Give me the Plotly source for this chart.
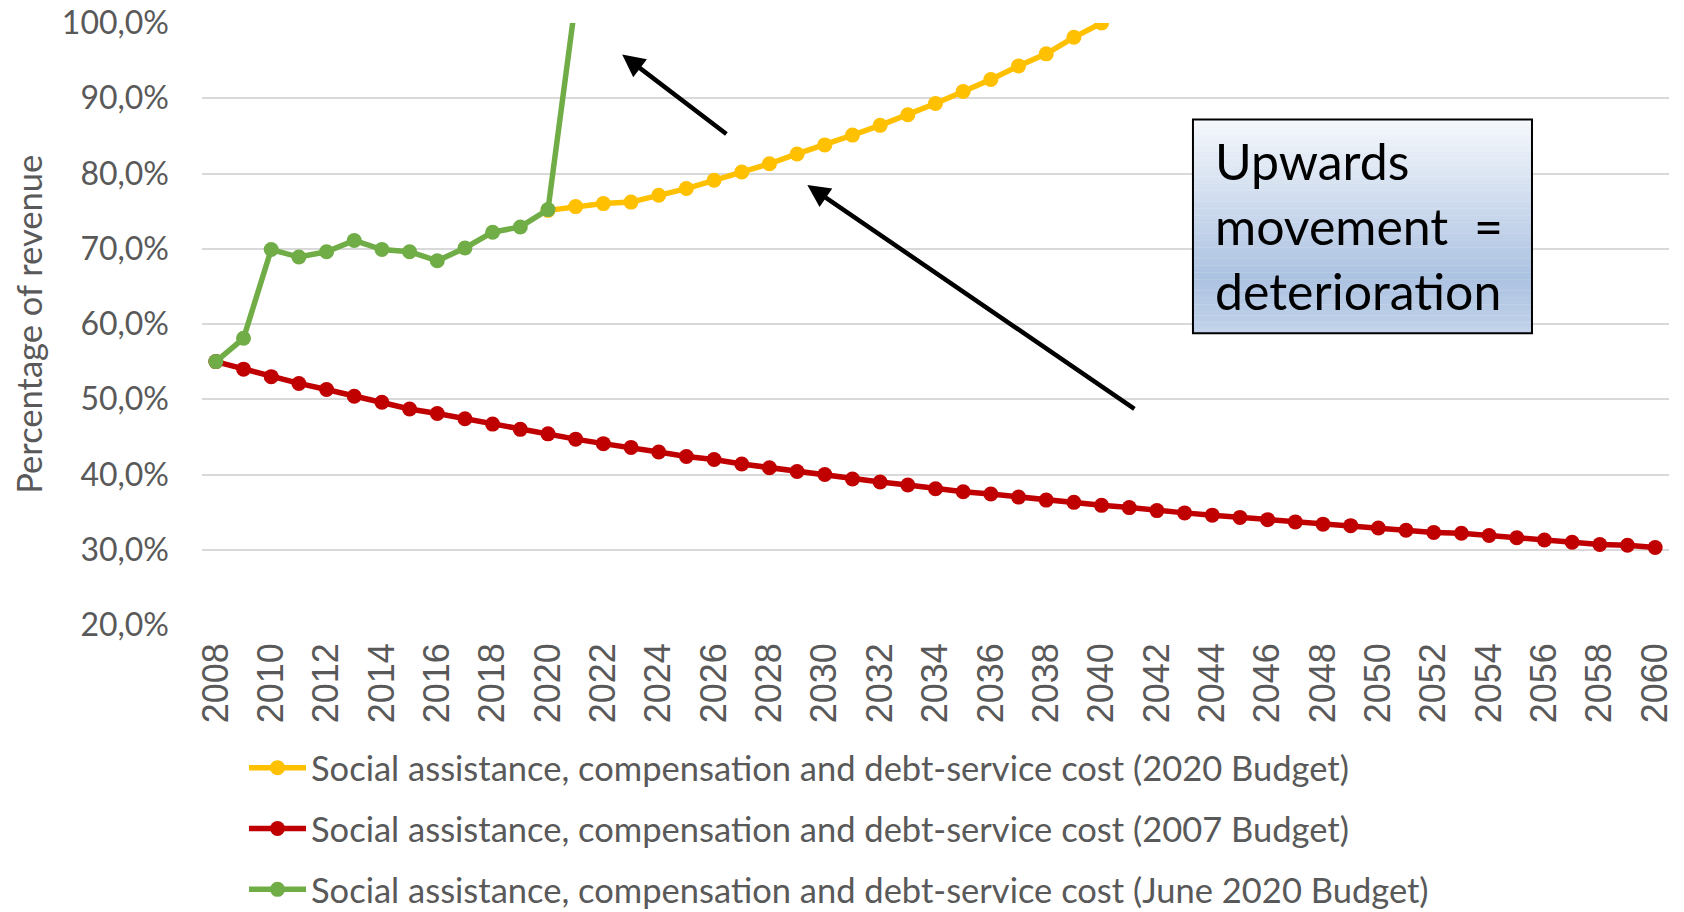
import plotly.graph_objects as go

years = list(range(2008, 2061))

# Social assistance, compensation and debt-service cost (2020 Budget), 2020-2040
yellow_years = list(range(2020, 2041))
yellow_vals = [75.1, 75.6, 76.0, 76.2, 77.1, 78.0, 79.1, 80.2, 81.3, 82.6, 83.8,
               85.1, 86.4, 87.8, 89.3, 90.9, 92.5, 94.3, 95.9, 98.1, 100.0]

# Social assistance, compensation and debt-service cost (2007 Budget), 2008-2060
red_years = years
red_vals = [55.0, 54.0, 53.0, 52.1, 51.3, 50.4, 49.6, 48.7, 48.1, 47.4,
            46.7, 46.0, 45.4, 44.7, 44.1, 43.6, 43.0, 42.4, 42.0, 41.4,
            40.9, 40.4, 40.0, 39.4, 39.0, 38.6, 38.1, 37.7, 37.4, 37.0,
            36.6, 36.3, 35.9, 35.6, 35.2, 34.9, 34.6, 34.3, 34.0, 33.7,
            33.4, 33.2, 32.9, 32.6, 32.3, 32.2, 31.9, 31.6, 31.3, 31.0,
            30.7, 30.6, 30.3]

# Social assistance, compensation and debt-service cost (June 2020 Budget), 2008-2021
green_years = list(range(2008, 2022))
green_vals = [55.0, 58.1, 69.9, 68.9, 69.6, 71.1, 69.9, 69.6, 68.4, 70.1,
              72.2, 72.9, 75.2, 103.0]

names = [
    "Social assistance, compensation and debt-service cost (2020 Budget)",
    "Social assistance, compensation and debt-service cost (2007 Budget)",
    "Social assistance, compensation and debt-service cost (June 2020 Budget)",
]
colors = ["#FFC000", "#C00000", "#70AD47"]

x_ticks = list(range(2008, 2061, 2))
y_ticks = [0.2, 0.3, 0.4, 0.5, 0.6, 0.7, 0.8, 0.9, 1.0]
y_title = "Percentage of revenue"

GREY = "#595959"
FONT = "Lato"

fig = go.Figure()
series = [(yellow_years, yellow_vals), (red_years, red_vals), (green_years, green_vals)]
for i, ((xs, vs), nm, col) in enumerate(zip(series, names, colors)):
    fig.add_trace(go.Scatter(
        x=xs, y=[v / 100 for v in vs], name=nm, mode="lines+markers",
        line=dict(color=col, width=5.5),
        marker=dict(color=col, size=15),
        legendgroup=f"g{i}",
        cliponaxis=True,
    ))

# gradient text box
bx0, bx1 = 0.6755, 0.9066
by0, by1 = 0.4846, 0.8397
stops = [(0.0, (245, 248, 252)), (0.74, (172, 194, 225)), (1.0, (194, 211, 234))]

def grad(t):
    for (t0, c0), (t1, c1) in zip(stops[:-1], stops[1:]):
        if t0 <= t <= t1:
            f = (t - t0) / (t1 - t0)
            return "rgb(%d,%d,%d)" % tuple(round(a + (b - a) * f) for a, b in zip(c0, c1))
    return "rgb(%d,%d,%d)" % stops[-1][1]

N = 60
shapes = []
for k in range(N):
    t0 = k / N
    t1 = (k + 1) / N
    shapes.append(dict(type="rect", xref="paper", yref="paper",
                       x0=bx0, x1=bx1,
                       y0=by1 - (by1 - by0) * t1, y1=by1 - (by1 - by0) * t0 + 0.0005,
                       fillcolor=grad((t0 + t1) / 2), line=dict(width=0), layer="above"))
shapes.append(dict(type="rect", xref="paper", yref="paper", x0=bx0, x1=bx1, y0=by0, y1=by1,
                   fillcolor="rgba(0,0,0,0)", line=dict(color="black", width=2), layer="above"))

annotations = [
    dict(xref="paper", yref="paper", x=0.6894, y=(by0 + by1) / 2, xanchor="left", yanchor="middle",
         align="left", showarrow=False,
         text="Upwards<br>movement&nbsp;&nbsp;=<br>deterioration",
         font=dict(family=FONT, size=50, color="black")),
    dict(x=2022.68, y=0.958, ax=2026.50, ay=0.851, xref="x", yref="y", axref="x", ayref="y",
         text="", showarrow=True, arrowhead=2, arrowsize=1, arrowwidth=4.5, arrowcolor="black",
         standoff=0),
    dict(x=2029.37, y=0.7846, ax=2041.24, ay=0.4859, xref="x", yref="y", axref="x", ayref="y",
         text="", showarrow=True, arrowhead=2, arrowsize=1, arrowwidth=4.5, arrowcolor="black",
         standoff=0),
    dict(xref="paper", yref="paper", x=-0.1188, y=0.5, xanchor="center", yanchor="middle",
         text=y_title, textangle=-90, showarrow=False,
         font=dict(family=FONT, size=34.5, color=GREY)),
]

fig.update_layout(
    width=1684, height=912,
    margin=dict(l=202, r=15, t=23, b=287, autoexpand=False),
    paper_bgcolor="white", plot_bgcolor="white",
    separators=",.",
    font=dict(family=FONT, color=GREY),
    shapes=shapes,
    annotations=annotations,
    legend=dict(xref="container", yref="container", x=0.1449, xanchor="left", y=0.190, yanchor="top",
                font=dict(family=FONT, size=34.5, color=GREY),
                itemwidth=57, tracegroupgap=13, bgcolor="rgba(0,0,0,0)"),
    showlegend=True,
)
fig.update_xaxes(
    range=[2007.5, 2060.5], tickmode="array", tickvals=x_ticks,
    ticktext=[str(t) for t in x_ticks], tickangle=-90,
    tickfont=dict(family="Liberation Sans", size=36, color=GREY),
    showgrid=False, zeroline=False, showline=False, ticks="",
    ticklabelstandoff=10, automargin=False,
)
fig.update_yaxes(
    range=[0.2, 1.0], tickmode="array", tickvals=y_ticks, tickformat=".1%",
    tickfont=dict(family=FONT, size=32, color=GREY),
    showgrid=True, gridcolor="#D9D9D9", gridwidth=1.5, zeroline=False, showline=False,
    ticks="", ticklabelstandoff=32, automargin=False,
)

fig.write_html("out.html")
